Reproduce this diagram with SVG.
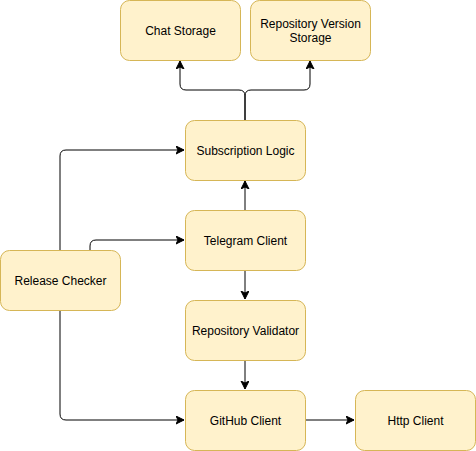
<svg xmlns="http://www.w3.org/2000/svg" width="476" height="451" viewBox="0 0 476 451">
<style>
.n rect{fill:#fff2cc;stroke:#d6b656;stroke-width:1}
.n text{font-family:"Liberation Sans",Arial,sans-serif;font-size:12px;fill:#000;text-anchor:middle;dominant-baseline:central}
.e path{fill:none;stroke:#000;stroke-width:1;marker-end:url(#a)}
</style>
<defs>
<marker id="a" markerUnits="userSpaceOnUse" markerWidth="10" markerHeight="10" refX="8" refY="4" orient="auto">
<path d="M0,0 L8,4 L0,8 L2,4 Z" fill="#000" stroke="#000" stroke-width="1"/>
</marker>
</defs>
<rect width="476" height="451" fill="#fff"/>
<g class="e" id="connectors">
<path d="M245,120 L245,96 Q245,90 239,90 L186,90 Q180,90 180,84 L180,61"/>
<path d="M245,120 L245,96 Q245,90 251,90 L304,90 Q310,90 310,84 L310,61"/>
<path d="M60,250 L60,156 Q60,150 66,150 L184,150"/>
<path d="M90,250 L90,246 Q90,240 96,240 L184,240"/>
<path d="M245,210 L245,181"/>
<path d="M245,270 L245,299"/>
<path d="M245,360 L245,389"/>
<path d="M60,310 L60,414 Q60,420 66,420 L184,420"/>
<path d="M305,420 L354,420"/>
</g>
<g class="n" id="chat-storage"><rect x="120.5" y="0.5" width="120" height="60" rx="9"/><text x="180.5" y="30.5">Chat Storage</text></g>
<g class="n" id="repo-version-storage"><rect x="250.5" y="0.5" width="120" height="60" rx="9"/><text x="310.5" y="24">Repository Version</text><text x="310.5" y="38">Storage</text></g>
<g class="n" id="subscription-logic"><rect x="185.5" y="120.5" width="120" height="60" rx="9"/><text x="245.5" y="150.5">Subscription Logic</text></g>
<g class="n" id="telegram-client"><rect x="185.5" y="210.5" width="120" height="60" rx="9"/><text x="245.5" y="240.5">Telegram Client</text></g>
<g class="n" id="release-checker"><rect x="0.5" y="250.5" width="120" height="60" rx="9"/><text x="60.5" y="280.5">Release Checker</text></g>
<g class="n" id="repository-validator"><rect x="185.5" y="300.5" width="120" height="60" rx="9"/><text x="245.5" y="330.5">Repository Validator</text></g>
<g class="n" id="github-client"><rect x="185.5" y="390.5" width="120" height="60" rx="9"/><text x="245.5" y="420.5">GitHub Client</text></g>
<g class="n" id="http-client"><rect x="355.5" y="390.5" width="120" height="60" rx="9"/><text x="415.5" y="420.5">Http Client</text></g>
</svg>
